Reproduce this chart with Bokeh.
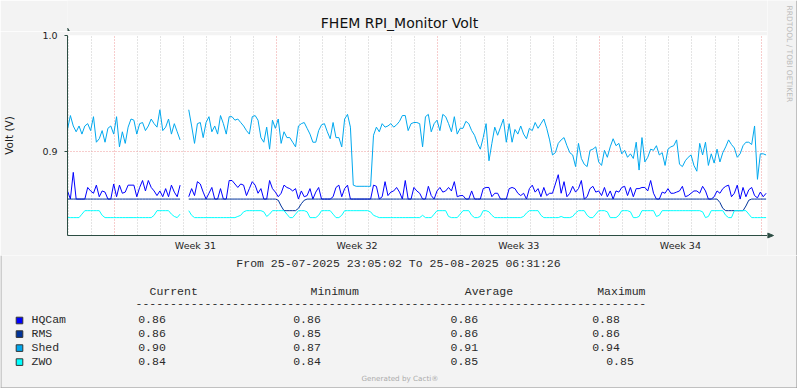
import datetime as dt
import math
import numpy as np
from bokeh.plotting import figure
from bokeh.layouts import column, row
from bokeh.models import Range1d, FixedTicker, Grid, PrintfTickFormatter
from bokeh.core.properties import value
from bokeh.embed import file_html
from bokeh.resources import INLINE

# ---------------- data ----------------
START = dt.datetime(2025, 7, 25, 23, 5, 2)
END = dt.datetime(2025, 8, 25, 6, 31, 26)
STEP_HOURS = 3

series_names = ["HQCam", "RMS", "Shed", "ZWO"]
series_colors = ["#0000FF", "#00339A", "#00A8EE", "#00FFFF"]

hqcam = [
    0.866, 0.859, 0.882, 0.859, 0.859, 0.859, 0.859, 0.869, 0.866, 0.864,
    0.871, 0.861, 0.866, 0.865, 0.859, 0.859, 0.872, 0.861, 0.871, 0.864,
    0.865, 0.871, 0.871, 0.871, 0.861, 0.869, 0.875, 0.866, 0.875, 0.869,
    0.866, 0.862, 0.866, 0.861, 0.868, 0.861, 0.871, 0.865, 0.861, 0.871,
    None, None, 0.861, 0.868, 0.862, 0.874, 0.872, 0.865, 0.859, 0.864,
    0.869, 0.859, 0.859, 0.868, 0.859, 0.859, 0.875, 0.875, 0.872, 0.869,
    0.872, 0.871, 0.862, 0.868, 0.874, 0.871, 0.864, 0.868, 0.859, 0.859,
    0.875, 0.868, 0.865, 0.861, 0.864, 0.871, 0.869, 0.868, 0.866, 0.868,
    0.859, 0.866, 0.861, 0.862, 0.868, 0.859, 0.865, 0.869, 0.859, 0.859,
    0.859, 0.859, 0.861, 0.869, 0.871, 0.861, 0.868, 0.871, 0.859, 0.859,
    0.859, 0.859, 0.859, 0.859, 0.859, 0.859, 0.871, 0.870, 0.859, 0.861,
    0.874, 0.862, 0.865, 0.866, 0.869, 0.865, 0.859, 0.875, 0.859, 0.859,
    0.869, 0.866, 0.864, 0.859, 0.859, 0.870, 0.862, 0.859, 0.866, 0.869,
    0.865, 0.866, 0.869, 0.866, 0.874, 0.861, 0.862, 0.862, 0.859, 0.859,
    0.866, 0.859, 0.859, 0.859, 0.868, 0.869, 0.869, 0.861, 0.864, 0.864,
    0.859, 0.859, 0.859, 0.868, 0.869, 0.868, 0.864, 0.862, 0.864, 0.859,
    0.868, 0.871, 0.865, 0.868, 0.861, 0.869, 0.862, 0.864, 0.864, 0.872,
    0.880, 0.864, 0.874, 0.861, 0.864, 0.870, 0.865, 0.868, 0.875, 0.859,
    0.861, 0.868, 0.870, 0.865, 0.866, 0.862, 0.869, 0.861, 0.866, 0.859,
    0.866, 0.865, 0.869, 0.870, 0.862, 0.869, 0.861, 0.868, 0.868, 0.869,
    0.869, 0.866, 0.875, 0.864, 0.859, 0.859, 0.865, 0.864, 0.868, 0.864,
    0.864, 0.865, 0.866, 0.870, 0.861, 0.862, 0.864, 0.866, 0.866, 0.864,
    0.870, 0.866, 0.859, 0.859, 0.861, 0.866, 0.864, 0.868, 0.870, 0.871,
    0.861, 0.864, 0.871, 0.859, 0.869, 0.861, 0.867, 0.869, 0.862, 0.860,
    0.865, 0.861, 0.864,
]

rms = [
    0.859, 0.859, 0.859, 0.859, 0.859, 0.859, 0.859, 0.859, 0.859, 0.859,
    0.859, 0.859, 0.859, 0.859, 0.859, 0.859, 0.859, 0.859, 0.859, 0.859,
    0.859, 0.859, 0.859, 0.859, 0.859, 0.859, 0.859, 0.859, 0.859, 0.859,
    0.859, 0.859, 0.859, 0.859, 0.859, 0.859, 0.859, 0.859, 0.859, 0.859,
    None, None, 0.859, 0.859, 0.859, 0.859, 0.859, 0.859, 0.859, 0.859,
    0.859, 0.859, 0.859, 0.859, 0.859, 0.859, 0.859, 0.859, 0.859, 0.859,
    0.859, 0.859, 0.859, 0.859, 0.859, 0.859, 0.859, 0.859, 0.859, 0.859,
    0.859, 0.859, 0.859, 0.858, 0.853, 0.849, 0.849, 0.849, 0.849, 0.849,
    0.851, 0.855, 0.858, 0.859, 0.859, 0.859, 0.859, 0.859, 0.859, 0.859,
    0.859, 0.859, 0.859, 0.859, 0.859, 0.859, 0.859, 0.859, 0.859, 0.859,
    0.859, 0.859, 0.859, 0.859, 0.859, 0.859, 0.859, 0.859, 0.859, 0.859,
    0.859, 0.859, 0.859, 0.859, 0.859, 0.859, 0.859, 0.859, 0.859, 0.859,
    0.859, 0.859, 0.859, 0.859, 0.859, 0.859, 0.859, 0.859, 0.859, 0.859,
    0.859, 0.859, 0.859, 0.859, 0.859, 0.859, 0.859, 0.859, 0.859, 0.859,
    0.859, 0.859, 0.859, 0.859, 0.859, 0.859, 0.859, 0.859, 0.859, 0.859,
    0.859, 0.859, 0.859, 0.859, 0.859, 0.859, 0.859, 0.859, 0.859, 0.859,
    0.859, 0.859, 0.859, 0.859, 0.859, 0.859, 0.859, 0.859, 0.859, 0.859,
    0.859, 0.859, 0.859, 0.859, 0.859, 0.859, 0.859, 0.859, 0.859, 0.859,
    0.859, 0.859, 0.859, 0.859, 0.859, 0.859, 0.859, 0.859, 0.859, 0.859,
    0.859, 0.859, 0.859, 0.859, 0.859, 0.859, 0.859, 0.859, 0.859, 0.859,
    0.859, 0.859, 0.859, 0.859, 0.859, 0.859, 0.859, 0.859, 0.859, 0.859,
    0.859, 0.859, 0.859, 0.859, 0.859, 0.859, 0.859, 0.859, 0.859, 0.859,
    0.859, 0.859, 0.859, 0.859, 0.859, 0.859, 0.856, 0.851, 0.849, 0.849,
    0.849, 0.849, 0.849, 0.849, 0.849, 0.853, 0.858, 0.859, 0.859, 0.859,
    0.859, 0.859, 0.859,
]

shed = [
    0.919, 0.931, 0.922, 0.917, 0.922, 0.915, 0.922, 0.924, 0.918, 0.930,
    0.908, 0.911, 0.918, 0.908, 0.920, 0.922, 0.915, 0.930, 0.904, 0.917,
    0.907, 0.921, 0.928, 0.927, 0.915, 0.924, 0.925, 0.918, 0.922, 0.928,
    0.924, 0.921, 0.936, 0.918, 0.921, 0.928, 0.915, 0.924, 0.917, 0.910,
    None, None, 0.936, 0.922, 0.907, 0.924, 0.925, 0.912, 0.925, 0.930,
    0.917, 0.922, 0.915, 0.931, 0.924, 0.915, 0.930, 0.930, 0.927, 0.928,
    0.925, 0.922, 0.918, 0.915, 0.930, 0.931, 0.927, 0.912, 0.908, 0.921,
    0.902, 0.927, 0.920, 0.928, 0.907, 0.917, 0.912, 0.912, 0.908, 0.904,
    0.922, 0.924, 0.925, 0.920, 0.915, 0.908, 0.908, 0.918, 0.923, 0.924,
    0.917, 0.911, 0.925, 0.912, 0.912, 0.904, 0.928, 0.932, 0.921, 0.871,
    0.870, 0.870, 0.870, 0.870, 0.870, 0.870, 0.914, 0.921, 0.917, 0.924,
    0.921, 0.922, 0.924, 0.921, 0.923, 0.926, 0.931, 0.931, 0.918, 0.924,
    0.925, 0.925, 0.924, 0.904, 0.930, 0.932, 0.917, 0.924, 0.927, 0.918,
    0.932, 0.930, 0.924, 0.917, 0.930, 0.915, 0.920, 0.920, 0.926, 0.924,
    0.918, 0.914, 0.907, 0.902, 0.912, 0.924, 0.892, 0.907, 0.921, 0.914,
    0.921, 0.928, 0.908, 0.924, 0.908, 0.919, 0.915, 0.922, 0.915, 0.911,
    0.920, 0.918, 0.925, 0.920, 0.924, 0.928, 0.920, 0.910, 0.897, 0.899,
    0.907, 0.910, 0.912, 0.905, 0.899, 0.897, 0.887, 0.907, 0.894, 0.889,
    0.887, 0.901, 0.902, 0.904, 0.891, 0.888, 0.901, 0.895, 0.904, 0.911,
    0.905, 0.907, 0.898, 0.901, 0.895, 0.898, 0.894, 0.908, 0.884, 0.912,
    0.891, 0.895, 0.902, 0.901, 0.905, 0.897, 0.899, 0.888, 0.902, 0.904,
    0.905, 0.910, 0.889, 0.887, 0.892, 0.895, 0.897, 0.888, 0.883, 0.907,
    0.897, 0.908, 0.888, 0.898, 0.890, 0.902, 0.891, 0.899, 0.904, 0.910,
    0.906, 0.903, 0.895, 0.898, 0.905, 0.908, 0.908, 0.906, 0.922, 0.876,
    0.898, 0.898, 0.897,
]

zwo = [
    0.843, 0.843, 0.843, 0.843, 0.843, 0.846, 0.849, 0.849, 0.849, 0.849,
    0.849, 0.849, 0.845, 0.843, 0.843, 0.843, 0.843, 0.843, 0.843, 0.843,
    0.843, 0.843, 0.843, 0.843, 0.843, 0.843, 0.843, 0.843, 0.843, 0.843,
    0.845, 0.849, 0.849, 0.849, 0.849, 0.849, 0.846, 0.844, 0.843, 0.846,
    None, None, 0.849, 0.845, 0.843, 0.843, 0.843, 0.843, 0.843, 0.843,
    0.843, 0.843, 0.843, 0.843, 0.843, 0.843, 0.843, 0.843, 0.843, 0.844,
    0.845, 0.848, 0.849, 0.849, 0.849, 0.849, 0.849, 0.849, 0.848, 0.844,
    0.846, 0.849, 0.849, 0.849, 0.849, 0.849, 0.846, 0.843, 0.843, 0.846,
    0.849, 0.849, 0.849, 0.848, 0.843, 0.843, 0.843, 0.845, 0.849, 0.849,
    0.849, 0.849, 0.846, 0.843, 0.843, 0.845, 0.849, 0.849, 0.849, 0.849,
    0.849, 0.849, 0.849, 0.849, 0.849, 0.848, 0.845, 0.844, 0.843, 0.843,
    0.843, 0.843, 0.843, 0.843, 0.843, 0.843, 0.843, 0.843, 0.843, 0.843,
    0.843, 0.843, 0.843, 0.845, 0.843, 0.843, 0.843, 0.846, 0.849, 0.849,
    0.849, 0.849, 0.844, 0.843, 0.843, 0.843, 0.846, 0.849, 0.849, 0.849,
    0.845, 0.843, 0.843, 0.844, 0.849, 0.849, 0.848, 0.845, 0.843, 0.843,
    0.843, 0.843, 0.843, 0.843, 0.843, 0.843, 0.843, 0.843, 0.844, 0.847,
    0.849, 0.849, 0.849, 0.849, 0.845, 0.843, 0.843, 0.843, 0.843, 0.843,
    0.843, 0.844, 0.843, 0.843, 0.843, 0.844, 0.847, 0.849, 0.849, 0.849,
    0.845, 0.843, 0.843, 0.846, 0.849, 0.849, 0.849, 0.848, 0.843, 0.843,
    0.843, 0.845, 0.849, 0.849, 0.849, 0.848, 0.843, 0.843, 0.844, 0.849,
    0.849, 0.849, 0.849, 0.849, 0.844, 0.845, 0.849, 0.849, 0.849, 0.849,
    0.849, 0.849, 0.849, 0.849, 0.849, 0.849, 0.849, 0.849, 0.849, 0.849,
    0.848, 0.843, 0.844, 0.849, 0.849, 0.849, 0.849, 0.849, 0.845, 0.843,
    0.843, 0.849, 0.849, 0.849, 0.849, 0.849, 0.846, 0.843, 0.843, 0.843,
    0.843, 0.843, 0.843,
]

legend_current = ["0.86", "0.86", "0.90", "0.84"]
legend_minimum = ["0.86", "0.85", "0.87", "0.84"]
legend_average = ["0.86", "0.86", "0.91", "0.85"]
legend_maximum = ["0.88", "0.86", "0.94", "0.85"]
legend_headers = ["Current", "Minimum", "Average", "Maximum"]

week_numbers = [31, 32, 33, 34]
y_ticks = [0.9, 1.0]
Y_MIN, Y_MAX = 0.82759, 1.0

TITLE = "FHEM RPI_Monitor Volt"
Y_LABEL = "Volt (V)"
PERIOD_TEXT = "From 25-07-2025 23:05:02 To 25-08-2025 06:31:26"
WATERMARK = "RRDTOOL / TOBI OETIKER"
FOOTER = "Generated by Cacti\u00ae"

# ---------------- style ----------------
AXIS = "#2C4D43"
BG = "#F3F3F3"
EDGE = "#8C8C8C"
SANS = "DejaVu Sans"
MONO = "Liberation Mono"
TXT = "#1E1E1E"
LTXT = "#2A2A2A"

EPOCH = dt.datetime(1970, 1, 1)


def to_ms(d):
    return (d - EPOCH).total_seconds() * 1000.0


def blank_fig(w, h, xr, yr, left=0):
    f = figure(width=w, height=h, x_range=Range1d(*xr), y_range=Range1d(*yr),
               output_backend="svg", toolbar_location=None,
               x_axis_location=None, y_axis_location=None,
               min_border_left=left, min_border_right=0,
               min_border_top=0, min_border_bottom=0)
    f.grid.visible = False
    f.outline_line_color = None
    f.background_fill_color = BG
    f.border_fill_color = BG
    return f


# ---------------- main chart ----------------
times = [START + dt.timedelta(hours=STEP_HOURS * i) for i in range(len(shed))]

days = []
d = dt.datetime(START.year, START.month, START.day) + dt.timedelta(days=1)
while d <= END:
    days.append(d)
    d += dt.timedelta(days=1)
monday_ms = [to_ms(x) for x in days if x.weekday() == 0]
other_day_ms = [to_ms(x) for x in days if x.weekday() != 0]
week_mid_ms = [to_ms(dt.datetime.combine(dt.date.fromisocalendar(2025, w, 1), dt.time())
                     + dt.timedelta(days=3, hours=12)) for w in week_numbers]

p = figure(width=767, height=224, x_axis_type="datetime",
           x_range=Range1d(START, END), y_range=Range1d(Y_MIN, Y_MAX),
           output_backend="svg", toolbar_location=None,
           min_border_left=67, min_border_right=0,
           min_border_top=4, min_border_bottom=20)
p.background_fill_color = "white"
p.border_fill_color = BG
p.outline_line_color = None

p.xgrid.ticker = FixedTicker(ticks=other_day_ms)
p.xgrid.grid_line_color = "#C8C8C8"
p.xgrid.grid_line_dash = "1 2"
p.add_layout(Grid(dimension=0, ticker=FixedTicker(ticks=monday_ms),
                  grid_line_color="#EE9A9A", grid_line_dash="1 2"))
p.ygrid.ticker = FixedTicker(ticks=y_ticks)
p.ygrid.grid_line_color = "#EE9A9A"
p.ygrid.grid_line_dash = "1 2"

xa = p.xaxis[0]
xa.ticker = FixedTicker(ticks=week_mid_ms)
xa.major_label_overrides = {ms: "Week %d" % w for ms, w in zip(week_mid_ms, week_numbers)}
xa.major_tick_out = 0
xa.major_tick_in = 0
xa.minor_tick_out = 0
xa.minor_tick_in = 0
xa.major_tick_line_color = None
xa.minor_tick_line_color = None
xa.axis_line_color = AXIS
xa.major_label_text_font = SANS
xa.major_label_text_font_size = "9.5px"
xa.major_label_text_color = TXT
xa.major_label_standoff = 4

ya = p.yaxis[0]
ya.ticker = FixedTicker(ticks=y_ticks)
ya.formatter = PrintfTickFormatter(format="%.1f")
ya.major_tick_out = 3
ya.major_tick_in = 0
ya.minor_tick_out = 0
ya.minor_tick_in = 0
ya.major_tick_line_color = AXIS
ya.minor_tick_line_color = None
ya.axis_line_color = AXIS
ya.major_label_text_font = SANS
ya.major_label_text_font_size = "9.5px"
ya.major_label_text_color = TXT
ya.major_label_standoff = 7
ya.axis_label = Y_LABEL
ya.axis_label_text_font = SANS
ya.axis_label_text_font_size = "10.5px"
ya.axis_label_text_font_style = "normal"
ya.axis_label_text_color = TXT
ya.axis_label_standoff = 24

for vals, col in zip([hqcam, rms, shed, zwo], series_colors):
    p.line(times, np.array(vals, dtype=float), line_color=col, line_width=1)

# ---------------- top strip: title + y arrow (frame aligned with the chart) ----------------
top = blank_fig(767, 31, (67, 767), (31, 0), left=67)
top.text(x=[399], y=[22.5], text=[TITLE], text_font=value(SANS), text_font_size="14px",
         text_color="#111111", text_align="center", text_baseline="middle")
top.patch(x=[64.5, 69.5, 67], y=[31.5, 31.5, 27.5], fill_color=AXIS, line_color=AXIS, line_width=1)

# ---------------- right strip: x arrow + watermark ----------------
right = blank_fig(30, 255, (767, 797), (255, 0))
right.patch(x=[767, 767, 773], y=[232.5, 237.5, 235], fill_color=AXIS, line_color=AXIS, line_width=1)
right.text(x=[789], y=[5], text=[WATERMARK], text_font=value(SANS), text_font_size="7.5px",
           text_color="#BBBBBB", text_align="left", text_baseline="middle", angle=-math.pi / 2)
right.line(x=[796.5, 796.5], y=[0, 255], line_color=EDGE, line_width=1)

# ---------------- bottom strip: period + legend table ----------------
bot = blank_fig(797, 133, (0, 797), (388, 255))


def mono(xs, ys, texts, align="left"):
    bot.text(x=xs, y=ys, text=texts, text_font=value(MONO), text_font_size="11.5px",
             text_color=LTXT, text_align=align, text_baseline="middle")


mono([398], [263], [PERIOD_TEXT], align="center")
mono([149, 310, 464.3, 596.7], [290.7] * 4, legend_headers)
mono([135], [302.5], ["-" * 74])

row_y = [319, 332.6, 346.6, 360.6]
col_x = [137.7, 292.7, 450, 591.7]
bot.rect(x=[19] * 4, y=[y + 1 for y in row_y], width=6.6, height=6.6,
         fill_color=series_colors, line_color="#333333", line_width=1)
mono([31] * 4, row_y, series_names)
for j, colvals in enumerate([legend_current, legend_minimum, legend_average, legend_maximum]):
    xs = [col_x[j] + (14 if (j == 3 and n == "ZWO") else 0) for n in series_names]
    mono(xs, row_y, colvals)

bot.text(x=[399.5], y=[378], text=[FOOTER], text_font=value(SANS), text_font_size="7.2px",
         text_color="#ABABAB", text_align="center", text_baseline="middle")
bot.line(x=[0, 797], y=[387.5, 387.5], line_color=EDGE, line_width=1)
bot.line(x=[796.5, 796.5], y=[255, 388], line_color=EDGE, line_width=1)
bot.line(x=[0.5, 0.5], y=[255, 388], line_color="#A8A8A8", line_width=1)

layout = column(row(column(top, p), right), bot)
open("out.html", "w").write(file_html(layout, INLINE))
